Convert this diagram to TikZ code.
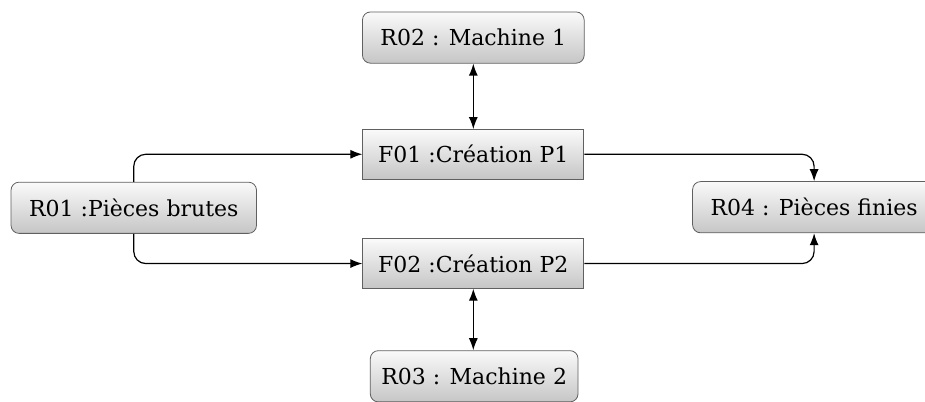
\documentclass[tikz,border=0pt]{standalone}
\usepackage{fontspec}
\setmainfont{DejaVu Serif}
\usetikzlibrary{arrows.meta}

\tikzset{
  res/.style={draw=gray!75!black, rounded corners=4pt, top color=gray!4, bottom color=gray!45,
    minimum height=0.9cm, inner xsep=9pt, font=\fontsize{11}{13}\selectfont},
  fct/.style={res, sharp corners, minimum height=0.87cm, inner xsep=7.7pt},
  flow/.style={->, rounded corners=6pt, line width=0.6pt},
}

\begin{document}
\begin{tikzpicture}[>={Latex[length=6pt,width=4.5pt]}]
\useasboundingbox (0,0) rectangle (16.25,-7.046);
\node[res] (r02) at (8.315,-0.66) {R02 : Machine 1};
\node[fct] (f01) at (8.315,-2.71) {F01 :Création P1};
\node[fct] (f02) at (8.315,-4.63) {F02 :Création P2};
\node[res] (r01) at (2.35,-3.65) {R01 :Pièces brutes};
\node[res, anchor=west] (r04) at (12.16,-3.64) {R04 : Pièces finies};
\node[res, inner xsep=5.5pt] (r03) at (8.33,-6.61) {R03 : Machine 2};
\draw[flow] (r01.north) |- (f01.west);
\draw[flow] (r01.south) |- (f02.west);
\draw[flow] (f01.east) -| (r04.north);
\draw[flow] (f02.east) -| (r04.south);
\draw[flow, <->] (r02) -- (f01);
\draw[flow, <->] (f02.south) -- (f02.south |- r03.north);
\end{tikzpicture}
\end{document}
